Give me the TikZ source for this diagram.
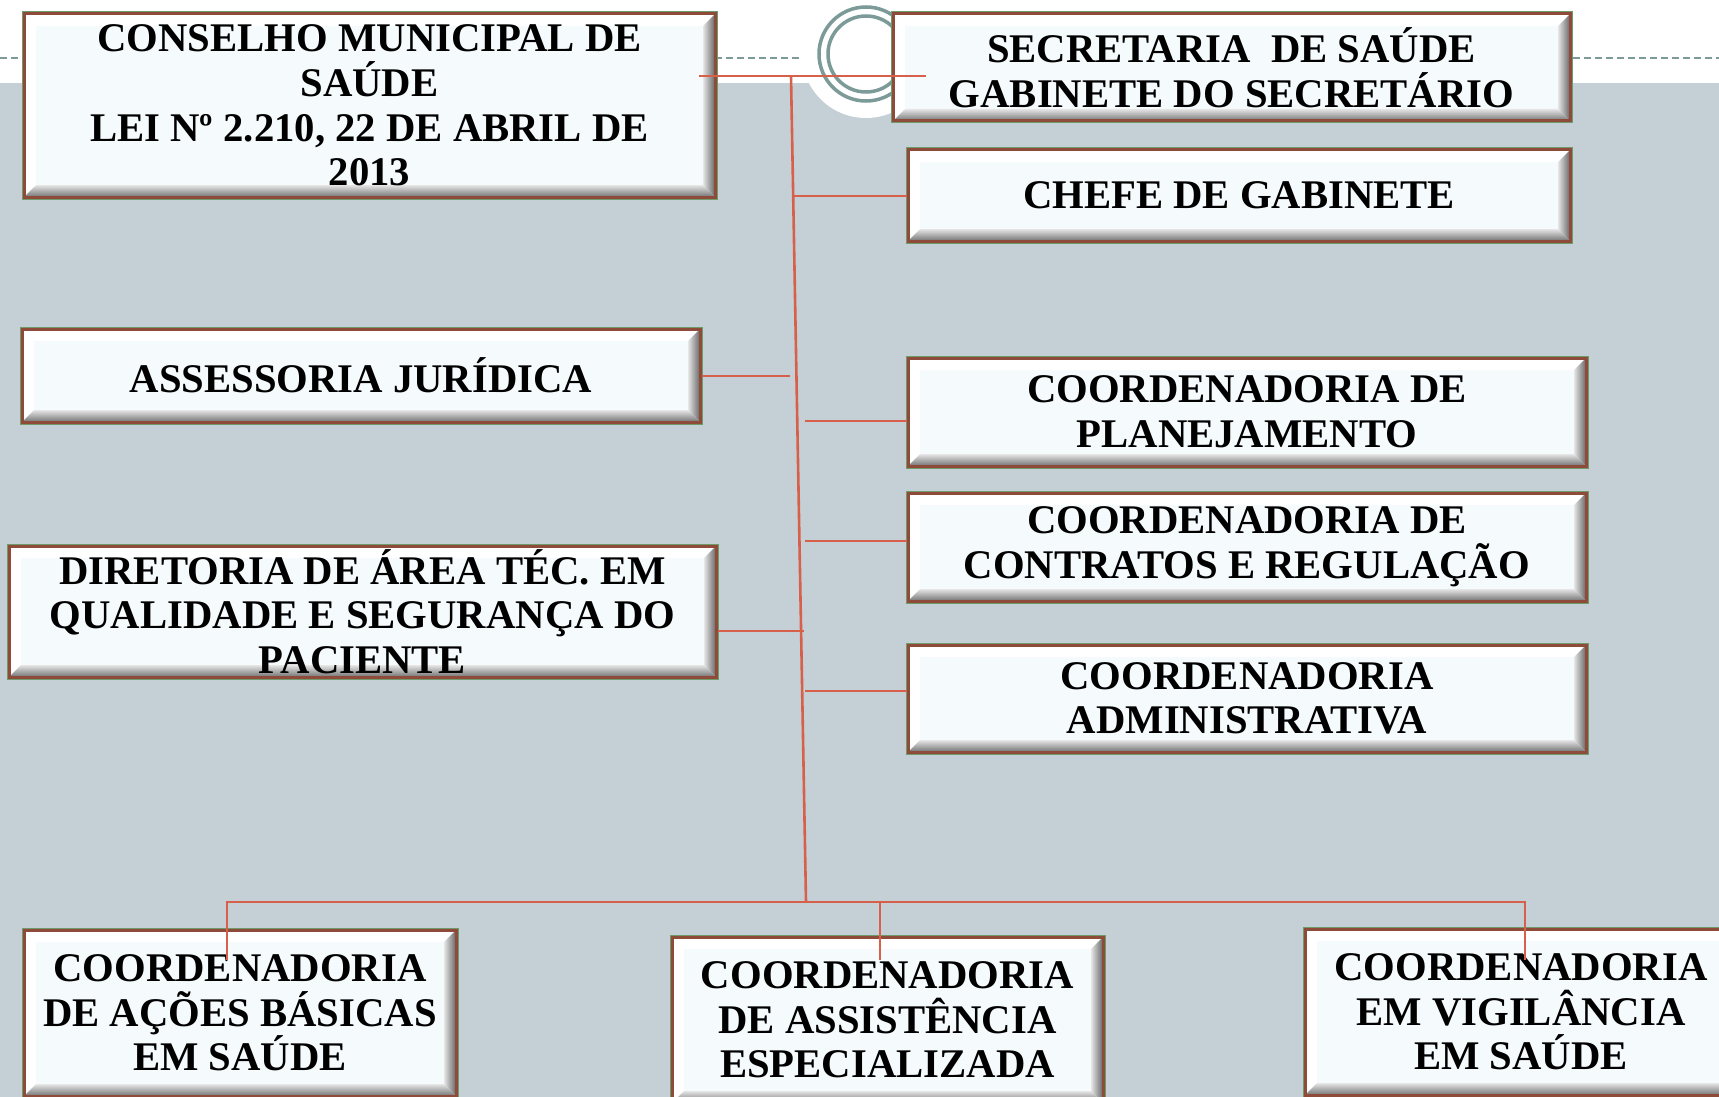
\documentclass[tikz,border=0pt]{standalone}
\usepackage{fontspec}
\setmainfont{Liberation Serif}
\usepackage{tikz}
\usetikzlibrary{positioning,calc}
\definecolor{bandgray}{HTML}{C5D0D6}
\definecolor{ringteal}{HTML}{7B9A98}
\definecolor{linkred}{HTML}{D6604A}
\definecolor{boxface}{HTML}{F5FAFD}
\definecolor{boxbrown}{HTML}{8E4B3A}
\definecolor{boxgreen}{HTML}{6F9A6A}
\definecolor{boxdark}{HTML}{3A2A22}
\tikzset{
    orgbox/.style n args={2}{draw=boxbrown, line width=3pt, fill=boxface,
        preaction={draw=boxgreen, line width=5pt},
        minimum width=#1pt, minimum height=#2pt, inner sep=0pt,
        align=center, font=\fontsize{40.7}{44.6}\selectfont\bfseries,
        path picture={
            \path (path picture bounding box.south west) coordinate (bsw)
                  (path picture bounding box.north east) coordinate (bne)
                  (path picture bounding box.north west) coordinate (bnw)
                  (path picture bounding box.south east) coordinate (bse);
            \fill[white] (bnw) -- (bne) -- ([shift={(-12pt,-12pt)}]bne) -- ([shift={(12pt,-12pt)}]bnw) -- cycle;
            \fill[white] (bnw) -- (bsw) -- ([shift={(12pt,12pt)}]bsw) -- ([shift={(12pt,-12pt)}]bnw) -- cycle;
            \shade[top color=black!10, bottom color=black!55] (bsw) -- (bse) -- ([shift={(-12pt,12pt)}]bse) -- ([shift={(12pt,12pt)}]bsw) -- cycle;
            \shade[left color=black!10, right color=black!60] (bse) -- (bne) -- ([shift={(-12pt,-12pt)}]bne) -- ([shift={(-12pt,12pt)}]bse) -- cycle;
            \draw[boxdark, line width=3pt] (bse) -- (bne);
        }},
    link/.style={draw=linkred, line width=2.6pt},
    rule/.style={draw=ringteal, line width=2pt, dash pattern=on 7pt off 4pt},
    ring/.style={draw=ringteal, line width=3.5pt}
}
\begin{document}
\begin{tikzpicture}[x=1pt, y=-1pt]
    \useasboundingbox (0,0) rectangle (1719,1097);
    \clip (0,0) rectangle (1719,1097);
    \fill[white] (0,0) rectangle (1719,1097);
    \fill[bandgray] (0,83) rectangle (1719,1097);
    \draw[rule] (0,58) -- (1719,58);
    \fill[white] (866,54) circle[radius=64pt];
    \draw[ring] (866,54) circle[radius=47pt];
    \draw[ring] (866,54) circle[radius=38pt];

    \node[orgbox={691}{183}] (conselho) at (369.5,105.5) {CONSELHO MUNICIPAL DE\\SAÚDE\\LEI Nº 2.210, 22 DE ABRIL DE\\2013};
    \node[orgbox={677}{107}] (secretaria) at (1231.5,67.5) {SECRETARIA\ \ DE SAÚDE\\GABINETE DO SECRETÁRIO};
    \node[orgbox={662}{91}] (chefe) at (1239,195.5) {CHEFE DE GABINETE};
    \node[orgbox={678}{93}] (assessoria) at (361,375.5) {ASSESSORIA JURÍDICA};
    \node[orgbox={678}{108}] (planej) at (1247,412) {COORDENADORIA DE\\PLANEJAMENTO};
    \node[orgbox={678}{108}] (contratos) at (1247,547) {COORDENADORIA DE\\CONTRATOS E REGULAÇÃO};
    \node[orgbox={678}{107}] (admin) at (1247,698.5) {COORDENADORIA\\ADMINISTRATIVA};
    \node[orgbox={707}{131}] (diretoria) at (362.5,611.5) {DIRETORIA DE ÁREA TÉC. EM\\QUALIDADE E SEGURANÇA DO\\PACIENTE};
    \node[orgbox={432}{166}] (acoes) at (240,1013) {COORDENADORIA\\DE AÇÕES BÁSICAS\\EM SAÚDE};
    \node[orgbox={431}{166}] (assist) at (887.5,1020) {COORDENADORIA\\DE ASSISTÊNCIA\\ESPECIALIZADA};
    \node[orgbox={432}{166}] (vigil) at (1521,1012) {COORDENADORIA\\EM VIGILÂNCIA\\EM SAÚDE};

    \coordinate (trunktop) at (791,76);
    \coordinate (trunkbot) at (806,902);
    \coordinate (topl) at (699,76);
    \coordinate (topr) at (926,76);
    \coordinate (jchefe) at (792,196);
    \coordinate (jassess) at (790,376);
    \coordinate (jplanej) at (805,421);
    \coordinate (jcontr) at (805,541);
    \coordinate (jdir) at (804,631);
    \coordinate (jadmin) at (805,691);
    \coordinate (busl) at (227,902);
    \coordinate (busr) at (1525,902);
    \coordinate (dropa) at (227,960);
    \coordinate (dropb) at (880,960);
    \coordinate (dropc) at (1525,960);

    \draw[link] (topl) -- (topr);
    \draw[link] (trunktop) -- (trunkbot);
    \draw[link] (jchefe) -- (chefe.west |- jchefe);
    \draw[link] (assessoria.east |- jassess) -- (jassess);
    \draw[link] (jplanej) -- (planej.west |- jplanej);
    \draw[link] (jcontr) -- (contratos.west |- jcontr);
    \draw[link] (diretoria.east |- jdir) -- (jdir);
    \draw[link] (jadmin) -- (admin.west |- jadmin);
    \draw[link] (dropa) -- (busl) -- (busr) -- (dropc);
    \draw[link] (dropb) -- (dropb |- busl);
\end{tikzpicture}
\end{document}
